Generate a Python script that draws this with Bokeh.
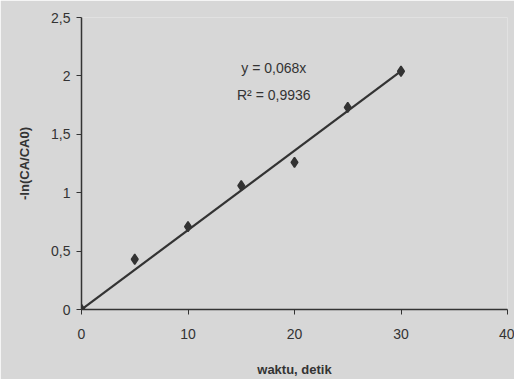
from bokeh.plotting import figure
from bokeh.models import FixedTicker, Range1d, Label
from bokeh.embed import file_html
from bokeh.resources import INLINE

waktu = [0, 5, 10, 15, 20, 25, 30]
ln_ratio = [0.0, 0.43, 0.71, 1.06, 1.26, 1.73, 2.04]
slope = 0.068
trend_x = [0, 30]
x_ticks = [0, 10, 20, 30, 40]
y_ticks = [0, 0.5, 1, 1.5, 2, 2.5]
y_tick_labels = {0: "0", 0.5: "0,5", 1: "1", 1.5: "1,5", 2: "2", 2.5: "2,5"}

bg = "#d7d7d7"
ink = "#333333"
font = "Liberation Sans"

p = figure(width=514, height=379, output_backend="svg", toolbar_location=None,
           x_range=Range1d(0, 40), y_range=Range1d(0, 2.5),
           min_border_left=81, min_border_right=7, min_border_top=17, min_border_bottom=68)
p.background_fill_color = bg
p.border_fill_color = bg
p.outline_line_color = None
p.grid.visible = False

p.line(trend_x, [slope * x for x in trend_x], line_color=ink, line_width=2.2)
p.scatter(waktu, ln_ratio, marker="diamond", size=10, fill_color=ink, line_color=ink, line_width=1.5)

for ax in (p.xaxis[0], p.yaxis[0]):
    ax.axis_line_color = ink
    ax.axis_line_width = 1.5
    ax.major_tick_line_color = ink
    ax.major_tick_in = 0
    ax.major_tick_out = 5
    ax.minor_tick_line_color = None
    ax.major_label_text_font = font
    ax.major_label_text_font_size = "14px"
    ax.major_label_text_color = ink
    ax.axis_label_text_font = font
    ax.axis_label_text_font_size = "13px"
    ax.axis_label_text_font_style = "bold"
    ax.axis_label_text_color = ink

p.xaxis.ticker = FixedTicker(ticks=x_ticks)
p.yaxis.ticker = FixedTicker(ticks=y_ticks)
p.yaxis.major_label_overrides = y_tick_labels
p.xaxis.major_label_standoff = 14
p.yaxis.major_label_standoff = 6
p.xaxis.axis_label = "waktu, detik"
p.yaxis.axis_label = "-ln(CA/CA0)"
p.xaxis.axis_label_standoff = 20
p.yaxis.axis_label_standoff = 16

p.add_layout(Label(x=15.0, y=2.07, text="y = 0,068x", text_font=font, text_font_size="14px",
                   text_color=ink, text_baseline="middle"))
p.add_layout(Label(x=14.6, y=1.84, text="R² = 0,9936", text_font=font, text_font_size="14px",
                   text_color=ink, text_baseline="middle"))

open("out.html", "w").write(file_html(p, INLINE))
